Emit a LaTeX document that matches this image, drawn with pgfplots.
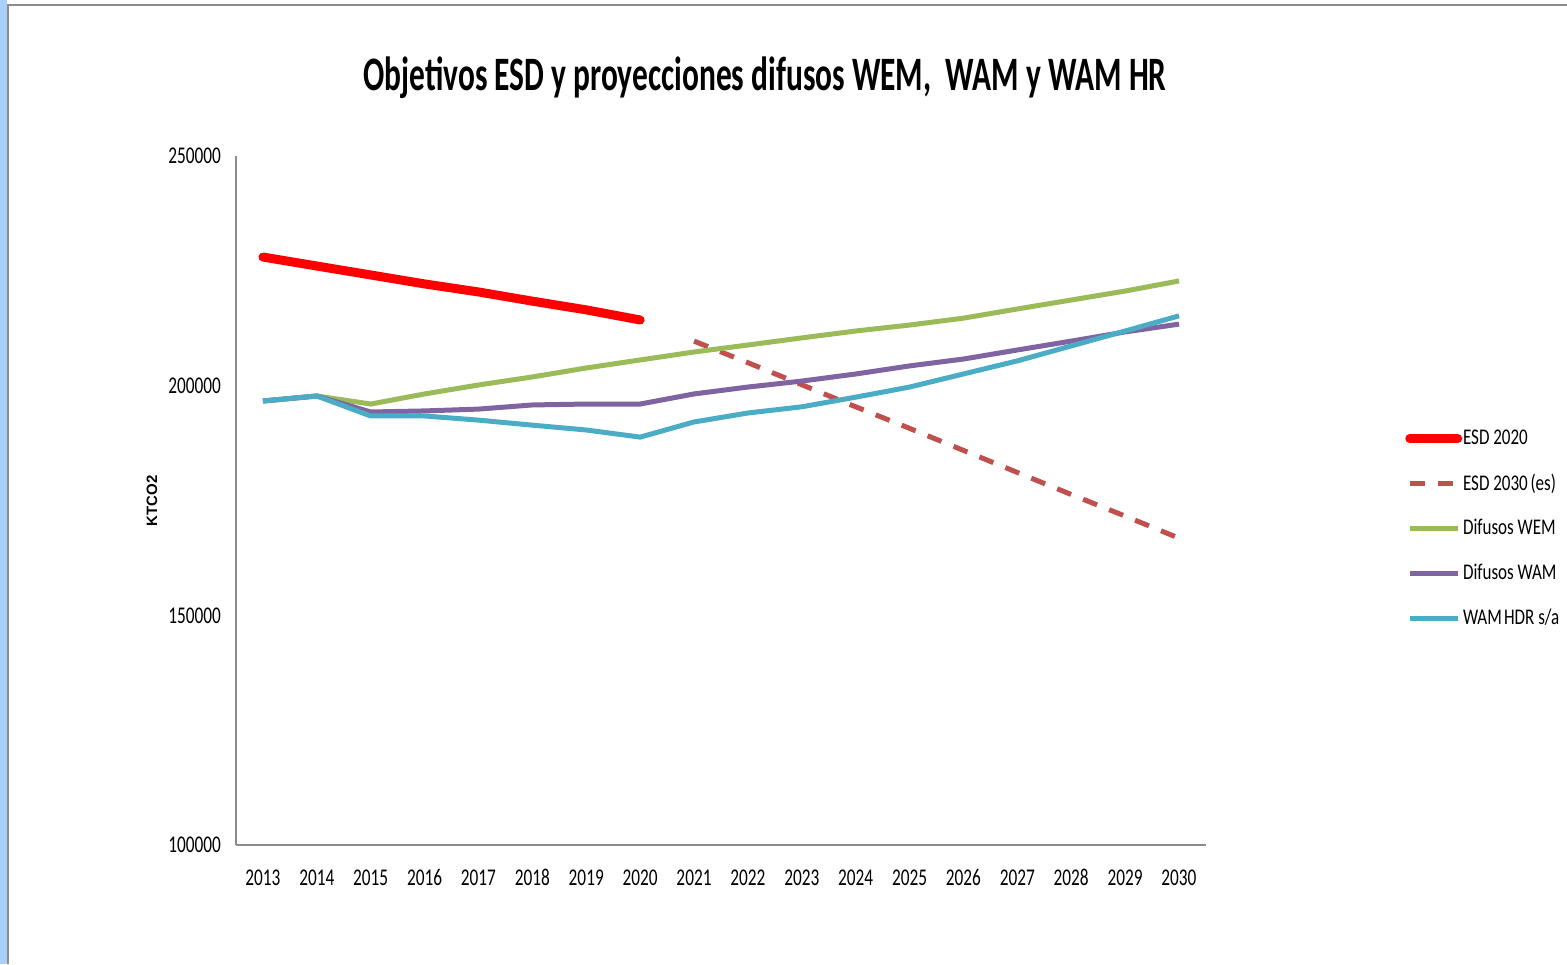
\documentclass[border=0pt]{standalone}
\usepackage{fontspec}
\setmainfont{Carlito}[FakeStretch=0.8]
\newfontfamily\tickf{Carlito}[FakeStretch=0.72]
\newfontfamily\titlef{Carlito}[FakeStretch=0.655]
\newfontfamily\legf{Carlito}[FakeStretch=0.76]
\newfontfamily\ylabfont{Liberation Sans}
\usepackage{pgfplots}
\pgfplotsset{compat=1.18}
\definecolor{cRed}{HTML}{FF0000}
\definecolor{cDash}{HTML}{C0504D}
\definecolor{cGreen}{HTML}{9BBB59}
\definecolor{cPurple}{HTML}{8064A2}
\definecolor{cCyan}{HTML}{4BACC6}
\definecolor{cFrame}{HTML}{8C8C8C}
\definecolor{cStrip}{HTML}{A9CFFB}
\begin{document}
\begin{tikzpicture}
\path[use as bounding box] (-118pt,-59.5pt) rectangle (665.5pt,422.5pt);
\fill[cStrip] (-118pt,-59.5pt) rectangle (-114.5pt,422.5pt);
\draw[cFrame,line width=0.8pt] (-114pt,-59.5pt) -- (-114pt,420pt) -- (665.5pt,420pt);
\begin{axis}[
  at={(0pt,0pt)}, anchor=south west,
  scale only axis, width=485pt, height=344.5pt,
  xmin=2012.5, xmax=2030.5, ymin=100000, ymax=250000,
  axis x line*=bottom, axis y line*=left,
  axis line style={cFrame, line width=0.9pt, -},
  xtick={2013,...,2030}, ytick={100000,150000,200000,250000},
  scaled y ticks=false, scaled x ticks=false,
  xticklabels={2013,2014,2015,2016,2017,2018,2019,2020,2021,2022,2023,2024,2025,2026,2027,2028,2029,2030},
  yticklabels={100000,150000,200000,250000},
  major tick length=0pt,
  tick label style={font=\tickf\fontsize{12}{14}\selectfont},
  xticklabel style={anchor=base, yshift=-20pt},
  yticklabel style={xshift=-4pt},
  legend style={at={(1.205,0.609)}, anchor=north west, draw=none, fill=none,
    font=\legf\fontsize{11.2}{13}\selectfont, row sep=9.2pt, inner sep=0pt,
    nodes={inner xsep=0.4pt}},
  legend cell align=left,
  legend image code/.code={\draw[#1] (0pt,0pt) -- (24pt,0pt);},
]
\addplot[cRed, line width=4.5pt, line cap=round] coordinates {
 (2013,228000) (2014,226050) (2015,224100) (2016,222150) (2017,220400)
 (2018,218400) (2019,216500) (2020,214300)};
\addlegendentry{ESD 2020}
\addplot[cDash, line width=2.5pt, dash pattern=on 7.5pt off 6.5pt] coordinates {
 (2021,209700) (2022,205000) (2023,200200) (2024,195400) (2025,190700)
 (2026,185900) (2027,181100) (2028,176300) (2029,171600) (2030,166800)};
\addlegendentry{ESD 2030\hspace{0.12em}(es)}
\addplot[cGreen, line width=2.5pt] coordinates {
 (2013,196660) (2014,197750) (2015,196000) (2016,198200) (2017,200150)
 (2018,201900) (2019,203850) (2020,205600) (2021,207330) (2022,208850)
 (2023,210400) (2024,211900) (2025,213200) (2026,214700) (2027,216700)
 (2028,218650) (2029,220600) (2030,222800)};
\addlegendentry{Difusos WEM}
\addplot[cPurple, line width=2.5pt] coordinates {
 (2013,196660) (2014,197750) (2015,194270) (2016,194500) (2017,194900)
 (2018,195800) (2019,196000) (2020,196000) (2021,198200) (2022,199700)
 (2023,201000) (2024,202540) (2025,204300) (2026,205800) (2027,207770)
 (2028,209700) (2029,211700) (2030,213400)};
\addlegendentry{Difusos WAM}
\addplot[cCyan, line width=2.5pt] coordinates {
 (2013,196660) (2014,197750) (2015,193400) (2016,193400) (2017,192500)
 (2018,191400) (2019,190350) (2020,188800) (2021,192100) (2022,194050)
 (2023,195400) (2024,197500) (2025,199700) (2026,202550) (2027,205400)
 (2028,208650) (2029,211900) (2030,215200)};
\addlegendentry{WAM\hspace{0.1em}HDR s/a}
\end{axis}
\node[font=\titlef\fontsize{24}{27}\selectfont\bfseries] at (264.5pt,383.5pt)
  {Objetivos ESD y proyecciones difusos WEM,\ \ WAM y WAM HR};
\node[rotate=90, font=\ylabfont\fontsize{7.5}{9}\selectfont\bfseries] at (-42pt,172pt) {KTCO2};
\end{tikzpicture}
\end{document}
